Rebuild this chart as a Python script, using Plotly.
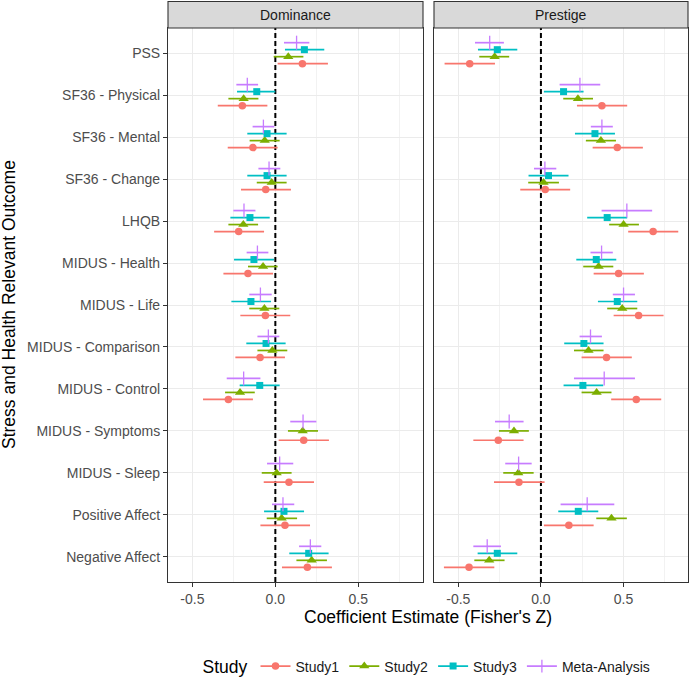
import plotly.graph_objects as go

categories = ["PSS", "SF36 - Physical", "SF36 - Mental", "SF36 - Change", "LHQB",
              "MIDUS - Health", "MIDUS - Life", "MIDUS - Comparison", "MIDUS - Control",
              "MIDUS - Symptoms", "MIDUS - Sleep", "Positive Affect", "Negative Affect"]
panels = ["Dominance", "Prestige"]
studies = ["Study1", "Study2", "Study3", "Meta-Analysis"]
x_ticks = [-0.5, 0.0, 0.5]
x_tick_labels = ["-0.5", "0.0", "0.5"]
ref_x = 0.0

# ---- Dominance ----
dom_s1_est = [0.163, -0.199, -0.135, -0.058, -0.221, -0.165, -0.060, -0.092, -0.283, 0.171, 0.082, 0.058, 0.193]
dom_s1_lo = [0.014, -0.347, -0.287, -0.207, -0.369, -0.313, -0.211, -0.241, -0.436, 0.020, -0.070, -0.090, 0.040]
dom_s1_hi = [0.317, -0.048, 0.014, 0.094, -0.068, -0.014, 0.090, 0.058, -0.135, 0.323, 0.233, 0.209, 0.341]
dom_s2_est = [0.078, -0.191, -0.064, -0.022, -0.193, -0.074, -0.066, -0.018, -0.213, 0.165, 0.008, 0.038, 0.219]
dom_s2_lo = [-0.010, -0.283, -0.155, -0.112, -0.283, -0.165, -0.157, -0.108, -0.303, 0.076, -0.082, -0.052, 0.127]
dom_s2_hi = [0.169, -0.102, 0.026, 0.068, -0.104, 0.014, 0.024, 0.072, -0.124, 0.257, 0.098, 0.131, 0.311]
dom_s3_est = [0.175, -0.112, -0.050, -0.050, -0.153, -0.129, -0.147, -0.056, -0.094, None, None, 0.052, 0.201]
dom_s3_lo = [0.058, -0.231, -0.169, -0.169, -0.271, -0.249, -0.265, -0.175, -0.215, None, None, -0.068, 0.084]
dom_s3_hi = [0.295, 0.0, 0.068, 0.068, -0.034, -0.008, -0.026, 0.062, 0.026, None, None, 0.173, 0.321]
dom_ma_est = [0.128, -0.169, -0.072, -0.038, -0.189, -0.108, -0.090, -0.042, -0.191, 0.167, 0.026, 0.046, 0.211]
dom_ma_lo = [0.052, -0.235, -0.137, -0.102, -0.253, -0.173, -0.157, -0.108, -0.293, 0.090, -0.050, -0.020, 0.143]
dom_ma_hi = [0.205, -0.104, -0.006, 0.030, -0.120, -0.042, -0.022, 0.024, -0.090, 0.247, 0.108, 0.114, 0.277]

# ---- Prestige ----
pre_s1_est = [-0.431, 0.369, 0.462, 0.026, 0.679, 0.470, 0.591, 0.397, 0.577, -0.258, -0.133, 0.169, -0.435]
pre_s1_lo = [-0.583, 0.218, 0.313, -0.125, 0.528, 0.319, 0.440, 0.246, 0.425, -0.409, -0.284, 0.018, -0.587]
pre_s1_hi = [-0.278, 0.522, 0.617, 0.177, 0.831, 0.623, 0.742, 0.550, 0.728, -0.105, 0.022, 0.319, -0.282]
pre_s2_est = [-0.280, 0.224, 0.363, 0.016, 0.500, 0.349, 0.492, 0.288, 0.337, -0.163, -0.137, 0.427, -0.313]
pre_s2_lo = [-0.373, 0.135, 0.272, -0.077, 0.413, 0.256, 0.401, 0.200, 0.246, -0.254, -0.228, 0.335, -0.403]
pre_s2_hi = [-0.192, 0.315, 0.454, 0.109, 0.593, 0.438, 0.583, 0.379, 0.427, -0.073, -0.044, 0.520, -0.220]
pre_s3_est = [-0.264, 0.137, 0.327, 0.046, 0.401, 0.335, 0.462, 0.260, 0.254, None, None, 0.226, -0.264]
pre_s3_lo = [-0.381, 0.018, 0.206, -0.075, 0.280, 0.214, 0.345, 0.141, 0.137, None, None, 0.105, -0.383]
pre_s3_hi = [-0.143, 0.258, 0.448, 0.167, 0.522, 0.456, 0.583, 0.379, 0.377, None, None, 0.347, -0.143]
pre_ma_est = [-0.310, 0.236, 0.369, 0.024, 0.520, 0.367, 0.500, 0.300, 0.383, -0.192, -0.135, 0.280, -0.325]
pre_ma_lo = [-0.399, 0.113, 0.302, -0.042, 0.367, 0.300, 0.435, 0.234, 0.200, -0.278, -0.216, 0.119, -0.409]
pre_ma_hi = [-0.224, 0.359, 0.435, 0.093, 0.673, 0.435, 0.569, 0.369, 0.569, -0.105, -0.056, 0.444, -0.242]

data = {
    "Dominance": {
        "Study1": (dom_s1_est, dom_s1_lo, dom_s1_hi),
        "Study2": (dom_s2_est, dom_s2_lo, dom_s2_hi),
        "Study3": (dom_s3_est, dom_s3_lo, dom_s3_hi),
        "Meta-Analysis": (dom_ma_est, dom_ma_lo, dom_ma_hi),
    },
    "Prestige": {
        "Study1": (pre_s1_est, pre_s1_lo, pre_s1_hi),
        "Study2": (pre_s2_est, pre_s2_lo, pre_s2_hi),
        "Study3": (pre_s3_est, pre_s3_lo, pre_s3_hi),
        "Meta-Analysis": (pre_ma_est, pre_ma_lo, pre_ma_hi),
    },
}

colors = {"Study1": "#F8766D", "Study2": "#7CAE00", "Study3": "#00BFC4", "Meta-Analysis": "#C77CFF"}
symbols = {"Study1": "circle", "Study2": "triangle-up", "Study3": "square", "Meta-Analysis": "line-ns"}
msizes = {"Study1": 7.5, "Study2": 9, "Study3": 7, "Meta-Analysis": 10}
top_order = ["Meta-Analysis", "Study3", "Study2", "Study1"]
DODGE = 0.667
ncat = len(categories)

FONT = "Liberation Sans, Arial, Helvetica, sans-serif"
W, H = 690, 678
px = lambda v: v / W
py = lambda v: 1 - v / H

x_range = [-0.647, 0.89]
y_range = [-0.6, ncat - 1 + 0.6]
panel_dom = [[px(168), px(423)], [px(434), px(688)]]
ydom = [py(582), py(28)]

fig = go.Figure()

for pi, panel in enumerate(panels):
    xa = "x" if pi == 0 else "x2"
    ya = "y" if pi == 0 else "y2"
    # dashed reference line at zero (below the marks)
    fig.add_trace(go.Scatter(x=[ref_x, ref_x], y=y_range, mode="lines", xaxis=xa, yaxis=ya,
                             line=dict(color="#000000", width=2, dash="5px,3px"),
                             showlegend=False, hoverinfo="skip"))
    for s in studies:
        est, lo, hi = data[panel][s]
        xs, ys, ep, em = [], [], [], []
        for k in range(ncat):
            if est[k] is None:
                continue
            present = [t for t in top_order if data[panel][t][0][k] is not None]
            n = len(present)
            j = present.index(s)
            off = DODGE * ((n - 1) / 2 - j) / n
            xs.append(est[k])
            ys.append((ncat - 1 - k) + off)
            ep.append(hi[k] - est[k])
            em.append(est[k] - lo[k])
        mk = dict(symbol=symbols[s], size=msizes[s], color=colors[s])
        if s == "Meta-Analysis":
            mk["line"] = dict(color=colors[s], width=1.3)
        fig.add_trace(go.Scatter(
            x=xs, y=ys, mode="markers", xaxis=xa, yaxis=ya,
            marker=mk, showlegend=False, name=s,
            error_x=dict(type="data", symmetric=False, array=ep, arrayminus=em,
                         color=colors[s], thickness=1.7, width=0),
        ))

# legend entries
for s in studies:
    mk = dict(symbol=symbols[s], size=msizes[s] if s != "Meta-Analysis" else 9, color=colors[s])
    if s == "Meta-Analysis":
        mk["line"] = dict(color=colors[s], width=1.3)
    fig.add_trace(go.Scatter(x=[None], y=[None], mode="lines+markers", name=s,
                             line=dict(color=colors[s], width=1.6), marker=mk,
                             xaxis="x", yaxis="y"))

axis_common = dict(
    range=x_range, autorange=False, tickvals=x_ticks, ticktext=x_tick_labels, showgrid=True,
    gridcolor="#EBEBEB", gridwidth=1.1, zeroline=False,
    minor=dict(tickvals=[-0.25, 0.25, 0.75], showgrid=True, gridcolor="#F2F2F2", gridwidth=0.6, ticks=""),
    ticks="outside", ticklen=4, tickcolor="#333333", tickwidth=1,
    tickfont=dict(family=FONT, size=14, color="#4D4D4D"),
    showline=True, mirror=True, linecolor="#333333", linewidth=1.1,
)
yvals = [ncat - 1 - k for k in range(ncat)]
yaxis_common = dict(
    range=y_range, autorange=False, domain=ydom, tickvals=yvals, ticktext=categories,
    showgrid=True, gridcolor="#EBEBEB", gridwidth=1.1, zeroline=False,
    showline=True, mirror=True, linecolor="#333333", linewidth=1.1,
)

fig.update_layout(
    width=W, height=H, margin=dict(l=0, r=0, t=0, b=0, autoexpand=False),
    paper_bgcolor="white", plot_bgcolor="white",
    font=dict(family=FONT, color="#000000"),
    xaxis=dict(domain=panel_dom[0], anchor="y", **axis_common),
    xaxis2=dict(domain=panel_dom[1], anchor="y2", **axis_common),
    yaxis=dict(anchor="x", ticks="outside", ticklen=4, tickcolor="#333333",
               tickfont=dict(family=FONT, size=14, color="#4D4D4D"), **yaxis_common),
    yaxis2=dict(anchor="x2", showticklabels=False, ticks="", **yaxis_common),
    legend=dict(orientation="h", x=px(428), xanchor="center", y=py(667), yanchor="middle",
                title=dict(text="Study", side="left", font=dict(family=FONT, size=17.5, color="#000000")),
                font=dict(family=FONT, size=14, color="#1A1A1A"), itemwidth=30,
                tracegroupgap=0, bgcolor="rgba(0,0,0,0)"),
)

shapes = []
annotations = []
for pi, panel in enumerate(panels):
    shapes.append(dict(type="rect", xref="paper", yref="paper",
                       x0=panel_dom[pi][0], x1=panel_dom[pi][1], y0=py(28), y1=py(1.5),
                       fillcolor="#D9D9D9", line=dict(color="#333333", width=1.1), layer="above"))
    annotations.append(dict(text=panel, xref="paper", yref="paper",
                            x=(panel_dom[pi][0] + panel_dom[pi][1]) / 2, y=py(15),
                            xanchor="center", yanchor="middle", showarrow=False,
                            font=dict(family=FONT, size=14, color="#1A1A1A")))

annotations.append(dict(text="Coefficient Estimate (Fisher's Z)", xref="paper", yref="paper",
                        x=px(428), y=py(617), xanchor="center", yanchor="middle", showarrow=False,
                        font=dict(family=FONT, size=17.5, color="#000000")))
annotations.append(dict(text="Stress and Health Relevant Outcome", xref="paper", yref="paper",
                        x=px(9), y=py(305), xanchor="center", yanchor="middle", showarrow=False,
                        textangle=-90, font=dict(family=FONT, size=17.5, color="#000000")))

fig.update_layout(shapes=shapes, annotations=annotations)
fig.write_html("out.html", config={"displayModeBar": False},
               post_script="document.body.style.margin='0';document.body.style.padding='0';")
